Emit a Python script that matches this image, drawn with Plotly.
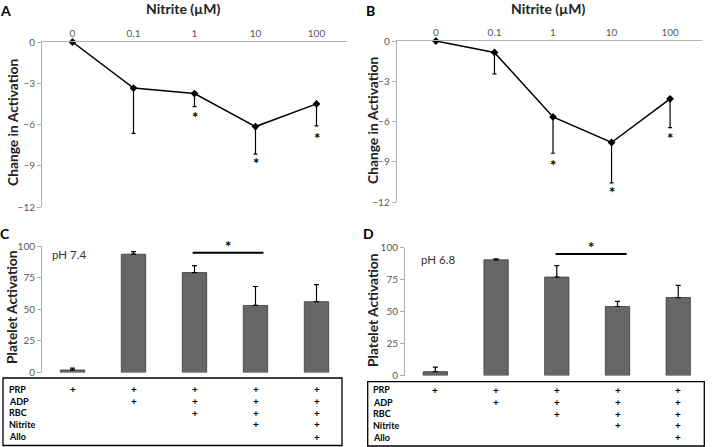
import plotly.graph_objects as go

W, H = 713, 447

# ---------------- data ----------------
nitrite = ["0", "0.1", "1", "10", "100"]
a_mean = [0, -3.35, -3.75, -6.15, -4.5]
a_err = [0, 3.3, 0.95, 2.0, 1.6]
a_star = [None, None, -5.45, -8.8, -6.95]

b_mean = [0, -0.85, -5.65, -7.55, -4.3]
b_err = [0, 1.6, 2.7, 3.0, 2.15]
b_star = [None, None, -9.25, -11.25, -7.25]

conditions = [0, 1, 2, 3, 4]
c_mean = [2, 93.5, 79, 53, 56]
c_err = [1.5, 2, 5.5, 15, 13.5]
d_mean = [3, 90.5, 77, 54, 61]
d_err = [3.5, 0.7, 9, 4, 9.5]

table_rows = ["PRP", "ADP", "RBC", "Nitrite", "Allo"]
table_plus = [[1, 1, 1, 1, 1],
              [0, 1, 1, 1, 1],
              [0, 0, 1, 1, 1],
              [0, 0, 0, 1, 1],
              [0, 0, 0, 0, 1]]

FONT = "Lato"
TICK = dict(family=FONT, size=10, color="#595959")
AXC = "#b0b0b0"


def px(x):
    return x / W


def py(y):
    return 1 - y / H


fig = go.Figure()

# ---------------- line panels ----------------
for mean, err, ax in [(a_mean, a_err, ""), (b_mean, b_err, "2")]:
    fig.add_trace(go.Scatter(
        x=list(range(len(nitrite))), y=mean, mode="lines+markers",
        line=dict(color="black", width=1.5),
        marker=dict(symbol="diamond", size=6, color="black"),
        error_y=dict(type="data", symmetric=False, array=[0] * len(err),
                     arrayminus=err, color="black", thickness=1.2, width=2),
        xaxis="x" + ax, yaxis="y" + ax, showlegend=False, cliponaxis=False))

# ---------------- bar panels ----------------
for mean, err, ax in [(c_mean, c_err, "3"), (d_mean, d_err, "4")]:
    fig.add_trace(go.Bar(
        x=conditions, y=mean, width=0.4,
        marker=dict(color="#676767", line=dict(color="#3a3a3a", width=0.8)),
        error_y=dict(type="data", symmetric=False, array=err,
                     arrayminus=[0] * len(err), color="black", thickness=1.2, width=2.5),
        xaxis="x" + ax, yaxis="y" + ax, showlegend=False))

yline = dict(showline=True, linecolor=AXC, linewidth=1, ticks="outside", ticklen=4,
             tickcolor=AXC, showgrid=False, zeroline=False, tickfont=TICK, fixedrange=True,
             automargin=False)
xtop = dict(side="top", showline=True, linecolor=AXC, linewidth=1, ticks="",
            showgrid=False, zeroline=False, tickfont=TICK, automargin=False,
            tickvals=list(range(len(nitrite))), ticktext=nitrite)
xbar = dict(visible=False, showgrid=False, zeroline=False, automargin=False)

fig.update_layout(
    width=W, height=H, margin=dict(l=0, r=0, t=0, b=0, autoexpand=False),
    paper_bgcolor="white", plot_bgcolor="white",
    font=dict(family=FONT, color="#333"),
    xaxis=dict(domain=[px(42), px(347)], range=[-0.5, 4.5], anchor="y", **xtop),
    yaxis=dict(domain=[py(207), py(42)], range=[-12, 0], tickvals=[0, -3, -6, -9, -12],
               anchor="x", **yline),
    xaxis2=dict(domain=[px(396.7), px(701.7)], range=[-0.67, 4.54], anchor="y2", **xtop),
    yaxis2=dict(domain=[py(202.3), py(41)], range=[-12, 0], tickvals=[0, -3, -6, -9, -12],
                anchor="x2", **yline),
    xaxis3=dict(domain=[px(42), px(347)], range=[-0.5, 4.5], anchor="y3", **xbar),
    yaxis3=dict(domain=[py(372.5), py(246)], range=[0, 100], tickvals=[0, 25, 50, 75, 100],
                anchor="x3", **yline),
    xaxis4=dict(domain=[px(405), px(708.6)], range=[-0.5, 4.5], anchor="y4", **xbar),
    yaxis4=dict(domain=[py(375.5), py(247.7)], range=[0, 100], tickvals=[0, 25, 50, 75, 100],
                anchor="x4", **yline),
)

ann = []
shapes = []
C = dict(xanchor="center", yanchor="middle", showarrow=False)
STAR = dict(family=FONT, size=15, color="black")

# asterisks on line panels
for stars, ax in [(a_star, ""), (b_star, "2")]:
    for i, s in enumerate(stars):
        if s is not None:
            ann.append(dict(x=i, y=s, xref="x" + ax, yref="y" + ax, text="<b>*</b>",
                            font=STAR, **C))

# panel letters
for t, x, y, ya in [("A", 5.5, 0, "top"), ("B", 370.5, 0, "top"),
                    ("C", 5, 233.5, "middle"), ("D", 368, 233, "middle")]:
    ann.append(dict(x=px(x), y=py(y), xref="paper", yref="paper", text="<b>%s</b>" % t,
                    xanchor="center", yanchor=ya, showarrow=False,
                    font=dict(family=FONT, size=14, color="black")))

# axis titles
for x, y in [(183, 8), (548, 8)]:
    ann.append(dict(x=px(x), y=py(y), xref="paper", yref="paper", text="<b>Nitrite (µM)</b>",
                    font=dict(family=FONT, size=14, color="#222"), **C))
for x, y, t in [(13, 123, "Change in Activation"), (373, 121, "Change in Activation"),
                (11, 307, "Platelet Activation"), (372, 310, "Platelet Activation")]:
    ann.append(dict(x=px(x), y=py(y), xref="paper", yref="paper", text="<b>%s</b>" % t,
                    textangle=-90, font=dict(family=FONT, size=13.8, color="#222"), **C))

# pH labels
for x, y, t in [(69, 255, "pH 7.4"), (438, 259, "pH 6.8")]:
    ann.append(dict(x=px(x), y=py(y), xref="paper", yref="paper", text=t,
                    font=dict(family=FONT, size=11.5, color="#333"), **C))

# significance bars
for ax, x0, x1, yl, ys in [("3", 1.97, 3.13, 94.7, 246), ("4", 1.98, 3.15, 95, 246.7)]:
    shapes.append(dict(type="line", xref="x" + ax, yref="y" + ax, x0=x0, x1=x1, y0=yl, y1=yl,
                       line=dict(color="black", width=2)))
    ann.append(dict(x=(x0 + x1) / 2, y=py(ys), xref="x" + ax, yref="paper", text="<b>*</b>",
                    font=STAR, **C))

# condition tables
for ax, bx0, bx1, by0, by1, lx, rows_y in [
        ("3", 3, 342, 378, 445.5, 7, [389, 401, 412.7, 424.3, 436.5]),
        ("4", 367.7, 704.3, 381.7, 446, 371, [389.5, 402, 413.7, 425, 437])]:
    shapes.append(dict(type="rect", xref="paper", yref="paper", x0=px(bx0), x1=px(bx1),
                       y0=py(by1), y1=py(by0), line=dict(color="black", width=1.3)))
    for r, name in enumerate(table_rows):
        ann.append(dict(x=px(lx), y=py(rows_y[r]), xref="paper", yref="paper",
                        text="<b>%s</b>" % name, xanchor="left", yanchor="middle",
                        showarrow=False, font=dict(family=FONT, size=9, color="black")))
        for c, v in enumerate(table_plus[r]):
            if v:
                ann.append(dict(x=conditions[c], y=py(rows_y[r]), xref="x" + ax, yref="paper",
                                text="<b>+</b>", font=dict(family=FONT, size=10, color="black"),
                                **C))

fig.update_layout(annotations=ann, shapes=shapes)
fig.write_html("out.html", config={"displayModeBar": False},
               post_script="document.body.style.margin='0';document.body.style.overflow='hidden';")
